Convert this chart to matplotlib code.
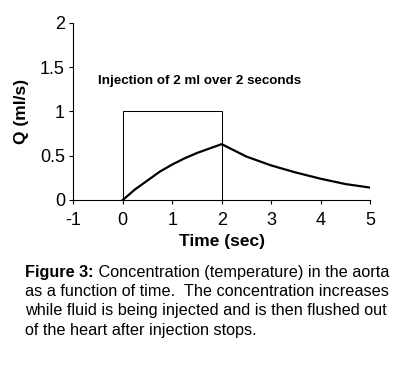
import matplotlib
matplotlib.use("Agg")
import matplotlib.pyplot as plt

# Data
time_sec = [0, 0.25, 0.5, 0.75, 1.0, 1.25, 1.5, 1.75, 2.0, 2.25, 2.5, 2.75, 3.0, 3.5, 4.0, 4.5, 5.0]
conc = [0.0, 0.12, 0.22, 0.32, 0.40, 0.47, 0.53, 0.58, 0.63, 0.56, 0.49, 0.44, 0.39, 0.31, 0.24, 0.18, 0.14]
inj_time = [0, 0, 2, 2]
inj_rate = [0, 1, 1, 0]
xticks = [-1, 0, 1, 2, 3, 4, 5]
yticks = [0, 0.5, 1, 1.5, 2]
ytick_labels = ["0", "0.5", "1", "1.5", "2"]

plt.rcParams['font.family'] = ['Liberation Sans', 'DejaVu Sans']

fig = plt.figure(figsize=(4.06, 3.66), dpi=100)
ax = fig.add_axes([0.1806, 0.4536, 0.7307, 0.4843])

ax.plot(inj_time, inj_rate, color='black', lw=0.75, solid_joinstyle='miter')
ax.plot(time_sec, conc, color='black', lw=1.6)

ax.set_xlim(-1, 5)
ax.set_ylim(0, 2)
ax.set_xticks(xticks)
ax.set_yticks(yticks)
ax.set_yticklabels(ytick_labels)
ax.set_xticklabels([str(t) for t in xticks])
for s in ['top', 'right']:
    ax.spines[s].set_visible(False)
for s in ['left', 'bottom']:
    ax.spines[s].set_linewidth(0.8)
ax.tick_params(direction='out', length=3, width=0.8, labelsize=13, colors='black')
ax.tick_params(axis='x', pad=6)
ax.tick_params(axis='y', pad=3)

ax.set_xlabel("Time (sec)", fontsize=12.5, fontweight='bold', labelpad=3)
ax.set_ylabel("Q (ml/s)", fontsize=12.5, fontweight='bold', labelpad=8)

ax.text(-0.51, 1.34, "Injection of 2 ml over 2 seconds", fontsize=9.6,
        fontweight='bold', va='center', ha='left')

# Caption
lines = [
    "Concentration (temperature) in the aorta",
    "as a function of time.  The concentration increases",
    "while fluid is being injected and is then flushed out",
    "of the heart after injection stops.",
]
x0 = 25 / 406
y_first = 1 - 273 / 366
dy = 19 / 366
cap_fs = 11.7
t1 = fig.text(x0, y_first, "Figure 3:", fontsize=cap_fs, fontweight='bold', va='center', ha='left')
fig.canvas.draw()
bb = t1.get_window_extent()
fig.text(bb.x1 / fig.bbox.width, y_first, " " + lines[0], fontsize=cap_fs, va='center', ha='left')
for i, ln in enumerate(lines[1:], start=1):
    fig.text(x0, y_first - i * dy, ln, fontsize=cap_fs, va='center', ha='left')

fig.savefig("out.png", dpi=100)
